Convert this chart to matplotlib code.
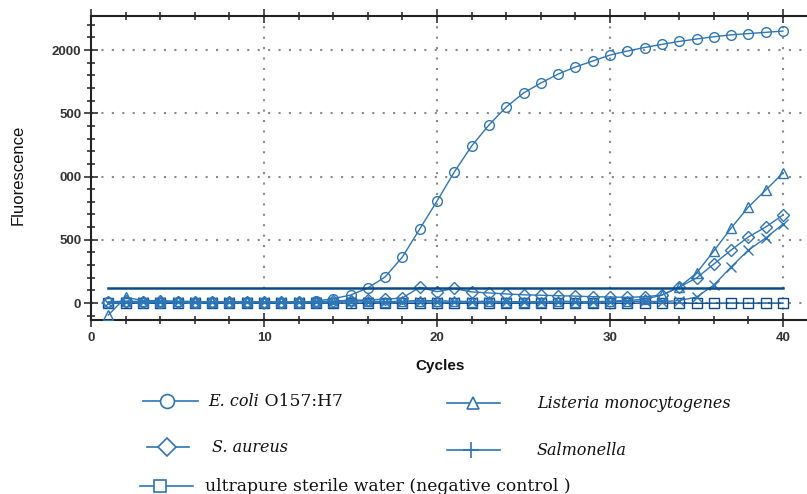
import matplotlib
matplotlib.use("Agg")
import matplotlib.pyplot as plt
from matplotlib.lines import Line2D
from matplotlib.ticker import MultipleLocator, FixedLocator

plt.rcParams['font.family'] = ['Liberation Sans', 'DejaVu Sans']

# ---- data -------------------------------------------------------------
cycles = list(range(1, 41))

ecoli = [5, 8, 6, 4, 5, 3, 6, 4, 5, 2, 4, 3, 15, 35, 63, 119, 206, 364, 585, 806,
         1036, 1241, 1407, 1549, 1660, 1739, 1810, 1866, 1913, 1960,
         1992, 2020, 2045, 2068, 2087, 2105, 2120, 2130, 2140, 2150]

listeria = [-95, 45, 20, 18, 15, 12, 10, 12, 8, 10, 6, 8, 10, 12, 25, 15, 10, 15, 20, 18,
            15, 12, 15, 10, 12, 10, 15, 12, 10, 15, 20, 30, 63, 126, 237, 411, 593, 759, 893, 1028]

saureus = [10, 15, 12, 14, 10, 12, 8, 10, 12, 10, 8, 10, 12, 15, 20, 25, 30, 40, 125, 90,
           115, 88, 80, 72, 65, 62, 58, 55, 50, 48, 45, 50, 63, 126, 198, 308, 419, 522, 601, 696]

salmonella = [0, 10, 8, 10, 6, 8, 5, 8, 6, 5, 8, 6, 5, 8, 10, 8, 6, 8, 10, 8,
              6, 8, 10, 8, 6, 8, 10, 12, 8, 10, 12, 15, 10, 20, 47, 142, 285, 419, 514, 624]

water = [0, -2, 0, -3, -1, 0, -2, -1, 0, -3, -1, 0, -2, 0, -1, -2, 0, -1, -3, 0,
         -2, -1, 0, -2, -1, 0, -2, -1, 0, -1, -2, 0, -1, 0, -2, -1, 0, -1, 0, -1]

threshold = 119
threshold_span = [1, 40]

y_ticks = [0, 500, 1000, 1500, 2000]
y_tick_labels = ["0", "500", "000", "500", "2000"]
x_ticks = [0, 10, 20, 30, 40]

# legend text: (italic part, upright part)
legend_labels = [("E. coli", " O157:H7"),
                 ("Listeria monocytogenes", ""),
                 ("S. aureus", ""),
                 ("Salmonella", ""),
                 ("", "ultrapure sterile water (negative control )")]

# ---- figure -------------------------------------------------------------
W, H = 807, 494
fig = plt.figure(figsize=(W / 100, H / 100), dpi=100)
px_per_cycle = 17.3
ax = fig.add_axes([91 / W, (H - 320) / H, 42 * px_per_cycle / W, 304 / H])
ax.set_xlim(0, 42)
ax.set_ylim(-134, 2269)

blue = '#2e75b6'
navy = '#0b4a8b'
lw = 1.0
ms = 7

ax.plot(cycles, water, color=navy, lw=lw, marker='s', ms=ms, mfc='none', mec=navy, mew=1.0, zorder=3)
ax.plot(cycles, salmonella, color=blue, lw=lw, marker='x', ms=ms, mec=blue, mew=1.0, zorder=3)
ax.plot(cycles, saureus, color=blue, lw=lw, marker='D', ms=6, mfc='none', mec=blue, mew=1.0, zorder=3)
ax.plot(cycles, listeria, color=blue, lw=lw, marker='^', ms=ms, mfc='none', mec=blue, mew=1.0, zorder=3)
ax.plot(cycles, ecoli, color=blue, lw=lw, marker='o', ms=ms, mfc='none', mec=blue, mew=1.0, zorder=3)
ax.plot(threshold_span, [threshold, threshold], color=navy, lw=1.8, zorder=4)

# axes styling
for side in ['left', 'bottom', 'top']:
    ax.spines[side].set_linewidth(1.5)
    ax.spines[side].set_color('#222222')
ax.spines['right'].set_visible(False)

ax.yaxis.set_major_locator(FixedLocator(y_ticks))
ax.set_yticklabels(y_tick_labels)
ax.yaxis.set_minor_locator(MultipleLocator(100))
ax.xaxis.set_major_locator(FixedLocator(x_ticks))
ax.xaxis.set_minor_locator(MultipleLocator(2))

ax.tick_params(axis='both', which='major', direction='inout', length=10, width=1.1,
               color='#222222', labelsize=9.5, labelcolor='#333333')
ax.tick_params(axis='both', which='minor', direction='inout', length=6, width=1.1, color='#222222')
ax.tick_params(axis='x', which='both', top=True)
ax.tick_params(axis='y', which='major', pad=2)
for lab in ax.get_xticklabels() + ax.get_yticklabels():
    lab.set_fontweight('bold')

ax.grid(True, which='major', color='#8a8a8a', linestyle=(0, (1, 4)), linewidth=1.5, zorder=0)

fig.text(18 / W, 1 - 175 / H, "Fluorescence", rotation=90, ha='center', va='center',
         fontsize=12, color='#111111')
fig.text(440 / W, 1 - 366 / H, "Cycles", ha='center', va='center',
         fontsize=11, fontweight='bold', color='#111111')

# ---- legend below the axes --------------------------------------------
entries = [
    # (line x0, line x1, marker x, row y, marker, text x)
    (143, 198, 167, 401, 'o', 208),
    (447, 500, 473, 403, '^', 537),
    (147, 189, 167, 447, 'D', 212),
    (447, 500, 471, 450, '+', 537),
    (140, 193, 160, 486, 's', 205),
]
leg_ms = {'o': 10, '^': 9, 'D': 9, '+': 12, 's': 9}
leg_font = dict(family='DejaVu Serif', color='#111111', va='center', ha='left')
renderer = fig.canvas.get_renderer()
for (x0, x1, xm, yr, mk, xt), (it_part, rm_part) in zip(entries, legend_labels):
    yf = 1 - yr / H
    fig.add_artist(Line2D([x0 / W, x1 / W], [yf, yf], color=blue, lw=1.2,
                          transform=fig.transFigure))
    fig.add_artist(Line2D([xm / W], [yf], color=blue, marker=mk, ms=leg_ms[mk],
                          mfc='white' if mk != '+' else blue, mec=blue, mew=1.2,
                          transform=fig.transFigure))
    x_cur = xt
    if it_part:
        t = fig.text(x_cur / W, yf, it_part, style='italic', fontsize=11.5, **leg_font)
        x_cur = t.get_window_extent(renderer).x1
    if rm_part:
        fig.text(x_cur / W, yf, rm_part, fontsize=12.3, **leg_font)

fig.savefig("out.png", dpi=100)
